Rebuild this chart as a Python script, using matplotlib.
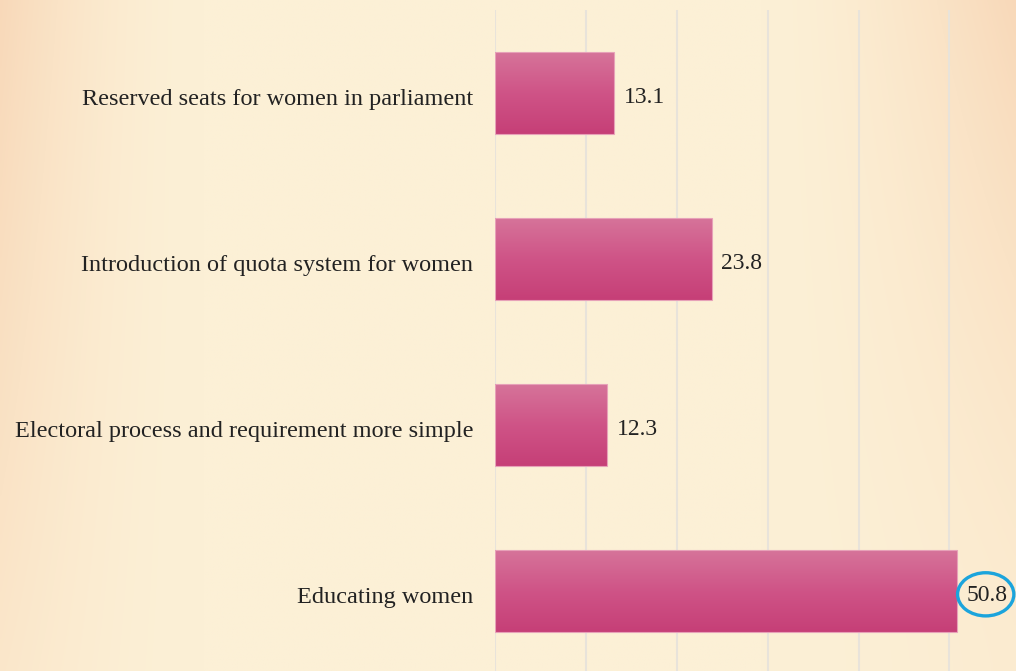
import matplotlib.pyplot as plt
import numpy as np
from matplotlib.colors import LinearSegmentedColormap
from matplotlib.patches import Ellipse
from matplotlib.transforms import ScaledTranslation

# survey answers, top to bottom
categories = [
    "Reserved seats for women in parliament",
    "Introduction of quota system for women",
    "Electoral process and requirement more simple",
    "Educating women",
]
values = [13.1, 23.8, 12.3, 50.8]
grid_ticks = [0, 10, 20, 30, 40, 50]

W, H, DPI = 1016, 671, 100
fig = plt.figure(figsize=(W / DPI, H / DPI), dpi=DPI)

# warm slide background: cream centre, peach towards the edges
bg = fig.add_axes([0, 0, 1, 1])
bg.set_axis_off()
xx, yy = np.meshgrid(np.linspace(0, 1, 400), np.linspace(0, 1, 260))
cream = np.array([252, 240, 214]) / 255.0
peach = np.array([248, 214, 182]) / 255.0
w_left = np.clip(1 - xx / 0.2, 0, 1) ** 1.8 * (0.4 + 0.6 * (1 - yy))
w_right = np.clip((xx - 0.75) / 0.25, 0, 1) ** 1.6 * (0.2 + 0.8 * (1 - yy) ** 1.5)
w = np.clip(np.maximum(w_left, w_right) * 0.9, 0, 1)
img = cream[None, None, :] * (1 - w[..., None]) + peach[None, None, :] * w[..., None]
bg.imshow(img, extent=[0, 1, 0, 1], aspect="auto", origin="upper", interpolation="bilinear")
bg.set_xlim(0, 1)
bg.set_ylim(0, 1)

x0 = 495.4 / W
top = 10 / H
bottom = 674 / H
ax = fig.add_axes([x0, 1 - bottom, 1 - x0, bottom - top])
ax.patch.set_alpha(0)
for s in ax.spines.values():
    s.set_visible(False)

y = np.arange(len(categories))
bars = ax.barh(y, values, height=0.494, color="none", edgecolor="#e7a1b8",
               linewidth=0.8, zorder=3)

# vertical pink gradient inside each bar
pink = LinearSegmentedColormap.from_list("pink", ["#d6749a", "#cf5487", "#c63f77"])
grad = np.linspace(0, 1, 100).reshape(-1, 1)
for b in bars:
    bx, by = b.get_x(), b.get_y()
    bw, bh = b.get_width(), b.get_height()
    im = ax.imshow(grad, cmap=pink, aspect="auto", origin="upper",
                   extent=[bx, bx + bw, by + bh, by], zorder=2)
    im.set_clip_path(b)

ax.set_xlim(0, (W - 495.4) / 9.08)
ax.set_ylim(len(categories) - 0.5, -0.5)
ax.set_xticks(grid_ticks)
ax.xaxis.grid(True, color="#e8e3da", linewidth=1.5, zorder=0)
ax.set_axisbelow(True)
ax.tick_params(axis="x", length=0, labelbottom=False)
ax.tick_params(axis="y", length=0, pad=16)
ax.set_yticks(y)
ax.set_yticklabels(categories, fontsize=17.5, family="Liberation Serif", color="#222222")
shift = ScaledTranslation(0, -3 / 72, fig.dpi_scale_trans)
for lbl in ax.get_yticklabels():
    lbl.set_transform(lbl.get_transform() + shift)

for yi, v in zip(y, values):
    ax.annotate(f"{v}", (v, yi), xytext=(7, -3), textcoords="offset points",
                va="center", ha="left", fontsize=17, family="Liberation Serif",
                color="#222222", zorder=4)

# highlight ring around the largest value
ax.add_patch(Ellipse((54.0, 3.02), 6.2, 0.26, fill=False, edgecolor="#1ba4dc",
                     linewidth=2.4, zorder=5, clip_on=False))

fig.savefig("out.png", dpi=DPI)
